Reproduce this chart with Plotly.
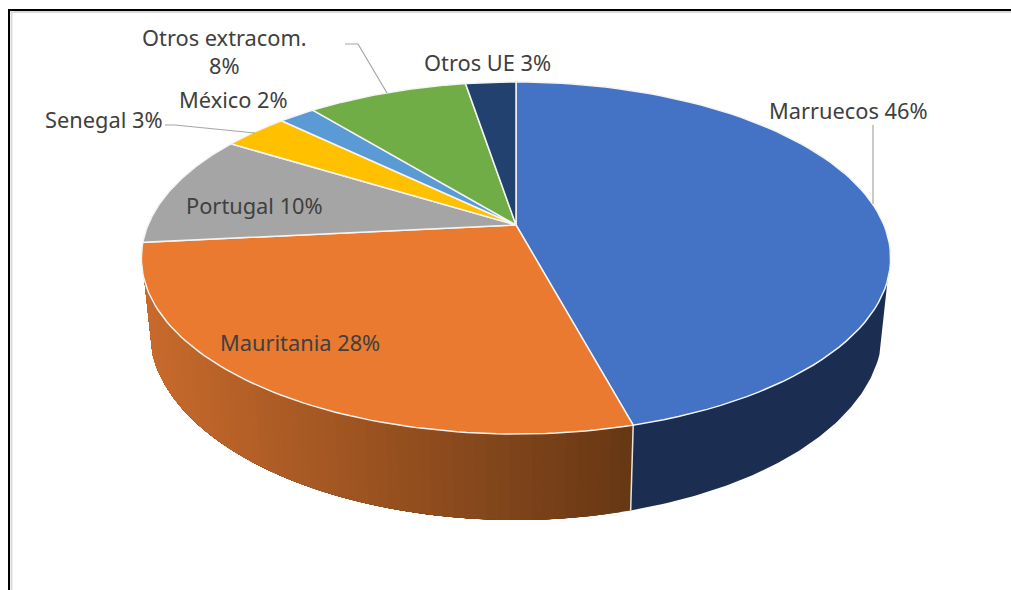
import numpy as np
import plotly.graph_objects as go

categories = ["Marruecos", "Mauritania", "Portugal", "Senegal", "México", "Otros extracom.", "Otros UE"]
shares = [45.8, 27.6, 10.4, 3.4, 1.9, 8.3, 2.6]
slice_colors = ["#4472C4", "#E97A30", "#A5A5A5", "#FFC000", "#5B9BD5", "#70AD47", "#22416F"]
label_breaks = {"Otros extracom.": "<br>"}
label_xy = [(848, 110), (300, 342), (254, 205), (104, 119), (233, 99), (224, 51), (487, 62)]

CX, K = 516.0, 0.1875
TOP = dict(a=368.0, b=169.8, cy=225.0)
BOT = dict(a=360.0, b=183.2, cy=294.5)
WALL_START, WALL_END = np.radians(108), np.radians(252)


def project(theta, disc):
    u, v = np.sin(theta), np.cos(theta)
    d = 1 + K * v
    return CX + disc["a"] * u / d, disc["cy"] - disc["b"] * v / d


def mix(c1, c2, t):
    return "rgb(%d,%d,%d)" % tuple(round(a + (b - a) * t) for a, b in zip(c1, c2))


cum = np.concatenate([[0], np.cumsum(shares)]) / sum(shares) * 2 * np.pi
fig = go.Figure()


def poly(x, y, fill, line=None, width=0.0):
    fig.add_trace(go.Scatter(x=x, y=y, mode="lines", fill="toself", fillcolor=fill,
                             line=dict(color=line or fill, width=width), hoverinfo="skip", showlegend=False))


def wall(t0, t1, fill):
    ts = np.linspace(t0, t1, 90)
    x0, y0 = project(ts, TOP)
    x1, y1 = project(ts[::-1], BOT)
    poly(np.r_[x0, x1, x0[0]], np.r_[y0, y1, y0[0]], fill)


# side wall of the first slice (dark blue)
wall(WALL_START, cum[1], "#1B2D51")

# side wall of the second slice: gradient painted back to front so no seams show
N = 60
for i in range(N):
    th0 = cum[1] + (WALL_END - cum[1]) * (i / N)
    xm = project(th0 + (WALL_END - cum[1]) / (2 * N), TOP)[0]
    g = (634 - xm) / (634 - 144)
    wall(th0, WALL_END, mix((102, 55, 20), (200, 106, 44), g))

# seam between the two visible side walls
x_a, y_a = project(cum[1], TOP)
x_b, y_b = project(cum[1], BOT)
fig.add_trace(go.Scatter(x=[x_a, x_b], y=[y_a, y_b], mode="lines", line=dict(color="#E8E4DE", width=1.5),
                         hoverinfo="skip", showlegend=False))

# top face
for i, col in enumerate(slice_colors):
    ts = np.linspace(cum[i], cum[i + 1], 80)
    x, y = project(ts, TOP)
    poly(np.r_[CX, x, CX], np.r_[TOP["cy"], y, TOP["cy"]], col, "#F4F4F4", 1.5)

# leader lines
leaders = [([873, 873], [125, 204]), ([345, 358, 387], [44, 44, 93]), ([165, 175, 255], [125, 125, 133])]
for lx, ly in leaders:
    fig.add_trace(go.Scatter(x=lx, y=ly, mode="lines", line=dict(color="#A6A6A6", width=1.2),
                             hoverinfo="skip", showlegend=False))

# frame
fig.add_trace(go.Scatter(x=[1015, 11.5, 11.5], y=[12, 12, 595], mode="lines", line=dict(color="#D9D9D9", width=2),
                         hoverinfo="skip", showlegend=False))
fig.add_trace(go.Scatter(x=[1015, 9, 9], y=[10, 10, 595], mode="lines", line=dict(color="#000000", width=2),
                         hoverinfo="skip", showlegend=False))

# labels
for name, share, (lx, ly) in zip(categories, shares, label_xy):
    sep = label_breaks.get(name, " ")
    fig.add_annotation(x=lx, y=ly, text=f"{name}{sep}{round(share)}%", showarrow=False,
                       font=dict(family="Noto Sans", size=21.8, color="#404040"), align="center")

fig.update_layout(width=1011, height=590, margin=dict(l=0, r=0, t=0, b=0),
                  paper_bgcolor="white", plot_bgcolor="white", showlegend=False, hovermode=False,
                  xaxis=dict(range=[0, 1011], visible=False, fixedrange=True),
                  yaxis=dict(range=[590, 0], visible=False, fixedrange=True))
fig.write_html("out.html", config={"displayModeBar": False},
               post_script="document.body.style.margin='0';document.body.style.overflow='hidden';")
